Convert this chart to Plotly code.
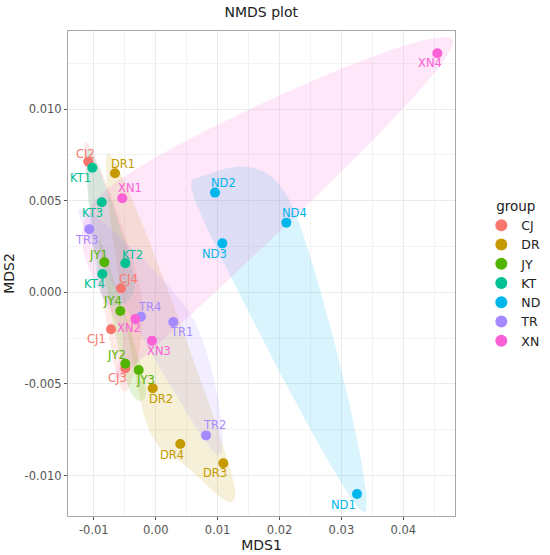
import numpy as np
import plotly.graph_objects as go

# groups and colours (ggplot default hue palette)
groups = ['CJ', 'DR', 'JY', 'KT', 'ND', 'TR', 'XN']
colors = ['#F8766D', '#C49A00', '#53B400', '#00C094', '#00B6EB', '#A58AFF', '#FB61D7']

samples = ['CJ1', 'CJ2', 'CJ3', 'CJ4',
           'DR1', 'DR2', 'DR3', 'DR4',
           'JY1', 'JY2', 'JY3', 'JY4',
           'KT1', 'KT2', 'KT3', 'KT4',
           'ND1', 'ND2', 'ND3', 'ND4',
           'TR1', 'TR2', 'TR3', 'TR4',
           'XN1', 'XN2', 'XN3', 'XN4']
mds1 = [-0.00722, -0.01089, -0.00491, -0.00561,
        -0.00658, -0.00048, 0.01092, 0.00397,
        -0.00830, -0.00491, -0.00275, -0.00572,
        -0.01024, -0.00491, -0.00872, -0.00863,
        0.03252, 0.00958, 0.01076, 0.02110,
        0.00284, 0.00813, -0.01073, -0.00237,
        -0.00540, -0.00330, -0.00060, 0.04549]
mds2 = [-0.00202, 0.00713, -0.00415, 0.00022,
        0.00650, -0.00524, -0.00933, -0.00828,
        0.00164, -0.00390, -0.00424, -0.00102,
        0.00680, 0.00158, 0.00491, 0.00100,
        -0.01101, 0.00544, 0.00267, 0.00380,
        -0.00162, -0.00781, 0.00344, -0.00133,
        0.00513, -0.00146, -0.00264, 0.01305]

x_ticks = [-0.01, 0.00, 0.01, 0.02, 0.03, 0.04]
y_ticks = [-0.010, -0.005, 0.000, 0.005, 0.010]

# label offsets in pixels (dx, dy downwards), like ggrepel put them
label_shift = {
    'CJ1': (-15, 10), 'CJ2': (-3, -8), 'CJ3': (-8, 10), 'CJ4': (8, -9),
    'DR1': (8, -9), 'DR2': (8, 11), 'DR3': (-8, 10), 'DR4': (-8, 11),
    'JY1': (-6, -7), 'JY2': (-9, -9), 'JY3': (7, 10), 'JY4': (-8, -10),
    'KT1': (-12, 10), 'KT2': (7, -8), 'KT3': (-9, 11), 'KT4': (-8, 10),
    'ND1': (-14, 11), 'ND2': (8, -10), 'ND3': (-8, 11), 'ND4': (8, -10),
    'TR1': (8, 10), 'TR2': (8, -10), 'TR3': (-3, 11), 'TR4': (8, -10),
    'XN1': (8, -10), 'XN2': (-6, 9), 'XN3': (7, 10), 'XN4': (-7, 10),
}

W, H = 550, 555
margin = dict(l=68, r=95, t=31, b=39, autoexpand=False)
x_range = [-0.01417, 0.04835]
y_range = [-0.01221, 0.01426]
sx = (W - margin['l'] - margin['r']) / (x_range[1] - x_range[0])
sy = (H - margin['t'] - margin['b']) / (y_range[1] - y_range[0])


def hull(pts):
    # monotone chain convex hull, returns indices in order
    order = sorted(range(len(pts)), key=lambda i: (pts[i][0], pts[i][1]))

    def cross(o, a, b):
        return (a[0] - o[0]) * (b[1] - o[1]) - (a[1] - o[1]) * (b[0] - o[0])

    lower, upper = [], []
    for i in order:
        while len(lower) >= 2 and cross(pts[lower[-2]], pts[lower[-1]], pts[i]) <= 0:
            lower.pop()
        lower.append(i)
    for i in reversed(order):
        while len(upper) >= 2 and cross(pts[upper[-2]], pts[upper[-1]], pts[i]) <= 0:
            upper.pop()
        upper.append(i)
    return lower[:-1] + upper[:-1]


def closed_spline(P, n=30):
    # closed Catmull-Rom curve through the control points
    k = len(P)
    out = []
    for i in range(k):
        p0, p1, p2, p3 = P[(i - 1) % k], P[i], P[(i + 1) % k], P[(i + 2) % k]
        for t in np.linspace(0, 1, n, endpoint=False):
            out.append(0.5 * (2 * p1 + (p2 - p0) * t
                              + (2 * p0 - 5 * p1 + 4 * p2 - p3) * t ** 2
                              + (3 * p1 - p0 - 3 * p2 + p3) * t ** 3))
    out.append(out[0])
    return np.array(out)


def encircle(xs, ys, expand=20):
    # hull corners pushed away from the group centre, then a smooth closed curve
    X = np.array(xs) * sx
    Y = np.array(ys) * sy
    m = np.array([X.mean(), Y.mean()])
    idx = hull(list(zip(X, Y)))
    P = []
    for i in idx:
        p = np.array([X[i], Y[i]])
        d = p - m
        P.append(p + expand * d / np.linalg.norm(d))
    c = closed_spline(P)
    return c[:, 0] / sx, c[:, 1] / sy


fig = go.Figure()

# encircled areas
for g, col in zip(groups, colors):
    idx = [i for i, s in enumerate(samples) if s[:2] == g]
    ex, ey = encircle([mds1[i] for i in idx], [mds2[i] for i in idx])
    fig.add_trace(go.Scatter(x=ex, y=ey, mode='lines', fill='toself',
                             fillcolor=col, opacity=0.15, line=dict(width=0),
                             hoverinfo='skip', showlegend=False))

# points
for g, col in zip(groups, colors):
    idx = [i for i, s in enumerate(samples) if s[:2] == g]
    fig.add_trace(go.Scatter(x=[mds1[i] for i in idx], y=[mds2[i] for i in idx],
                             mode='markers', name=g,
                             marker=dict(color=col, size=10),
                             text=[samples[i] for i in idx]))

# labels
for s, x, y in zip(samples, mds1, mds2):
    col = colors[groups.index(s[:2])]
    dx, dy = label_shift[s]
    fig.add_annotation(x=x, y=y, text=s, showarrow=False,
                       xshift=dx, yshift=-dy,
                       font=dict(color=col, size=11.5))

axis_style = dict(showgrid=True, gridcolor='#EBEBEB', gridwidth=1, automargin=False,
                  zeroline=False, showline=True, linecolor='#A8A8A8', mirror=True,
                  ticks='outside', ticklen=3, tickcolor='#555555',
                  tickfont=dict(size=11.5, color='#555555'))

fig.update_xaxes(range=x_range, tickvals=x_ticks,
                 ticktext=['%.2f' % v for v in x_ticks],
                 minor=dict(dtick=0.005, tick0=0, showgrid=True, gridcolor='#F3F3F3'),
                 title=dict(text='MDS1', font=dict(size=14, color='#222222'), standoff=0),
                 **axis_style)
fig.update_yaxes(range=y_range, tickvals=y_ticks,
                 ticktext=['%.3f' % v for v in y_ticks],
                 minor=dict(dtick=0.0025, tick0=0, showgrid=True, gridcolor='#F3F3F3'),
                 title=dict(text='MDS2', font=dict(size=14, color='#222222'), standoff=6),
                 **axis_style)

fig.update_layout(
    width=W, height=H, margin=margin,
    plot_bgcolor='white', paper_bgcolor='white',
    font=dict(family='DejaVu Sans'),
    title=dict(text='NMDS plot', x=0.475, xanchor='center',
               y=1 - 12 / H, yanchor='middle',
               font=dict(size=14, color='#222222')),
    legend=dict(title=dict(text='\u00a0\u00a0\u00a0group', font=dict(size=13.5, color='#222222')),
                font=dict(size=12.5, color='#222222'),
                x=1.068, xanchor='left', y=0.666, yanchor='top',
                itemsizing='constant', tracegroupgap=0),
)

fig.write_html("out.html", config={'displayModeBar': False},
               post_script="document.body.style.margin='0';"
                           "document.body.style.overflow='hidden';")
